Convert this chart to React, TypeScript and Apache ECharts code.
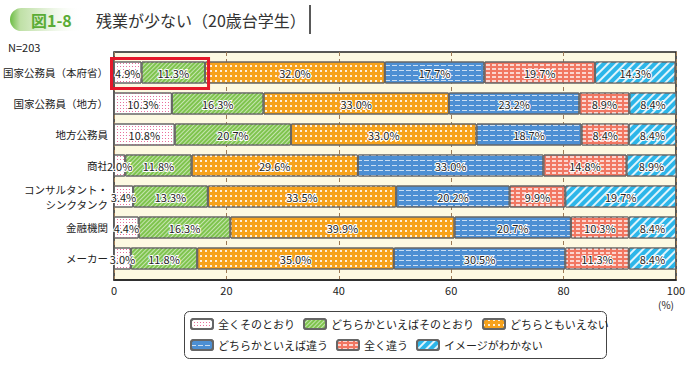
import React, { useEffect, useRef } from "react";
import * as echarts from "echarts";

const categories = [
  "国家公務員（本府省）",
  "国家公務員（地方）",
  "地方公務員",
  "商社",
  "コンサルタント・\nシンクタンク",
  "金融機関",
  "メーカー",
];
const seriesNames = [
  "全くそのとおり",
  "どちらかといえばそのとおり",
  "どちらともいえない",
  "どちらかといえば違う",
  "全く違う",
  "イメージがわかない",
];
const totallyAgree = [4.9, 10.3, 10.8, 2.0, 3.4, 4.4, 3.0];
const ratherAgree = [11.3, 16.3, 20.7, 11.8, 13.3, 16.3, 11.8];
const neutral = [32.0, 33.0, 33.0, 29.6, 33.5, 39.9, 35.0];
const ratherDisagree = [17.7, 23.2, 18.7, 33.0, 20.2, 20.7, 30.5];
const totallyDisagree = [19.7, 8.9, 8.4, 14.8, 9.9, 10.3, 11.3];
const noImage = [14.3, 8.4, 8.4, 8.9, 19.7, 8.4, 8.4];
const seriesValues = [totallyAgree, ratherAgree, neutral, ratherDisagree, totallyDisagree, noImage];
const xMin = 0;
const xMax = 100;
const xInterval = 20;

const FONT = "'Noto Sans CJK JP', 'Noto Sans', sans-serif";

const styles = [
  { color: "#ffffff", decal: { symbol: "rect", symbolSize: 1, color: "#e8709c", dashArrayX: [1, 2], dashArrayY: [1, 1.5] } },
  { color: "#7fc44e", decal: { symbol: "rect", symbolSize: 1, color: "rgba(255,255,255,0.55)", dashArrayX: [1, 0], dashArrayY: [1, 1.5], rotation: -Math.PI / 4 } },
  { color: "#f6a21c", decal: { symbol: "rect", symbolSize: 1, color: "rgba(255,255,255,0.85)", dashArrayX: [2, 3], dashArrayY: [2, 3] } },
  { color: "#4d8fd3", decal: { symbol: "rect", symbolSize: 1, color: "rgba(255,255,255,0.7)", dashArrayX: [5, 2], dashArrayY: [1, 4] } },
  { color: "#f17762", decal: { symbol: "rect", symbolSize: 1, color: "rgba(255,255,255,0.7)", dashArrayX: [4, 2], dashArrayY: [1.5, 1.5] } },
  { color: "#2cb6e9", decal: { symbol: "rect", symbolSize: 1, color: "rgba(255,255,255,0.85)", dashArrayX: [1, 0], dashArrayY: [2, 4], rotation: -Math.PI / 4 } },
];

export default function App() {
  const ref = useRef<HTMLDivElement>(null);
  useEffect(() => {
    document.body.style.margin = "0";
    const chart = echarts.init(ref.current!, null, { renderer: "svg" });
    const baseGraphics: any[] = [
      {
        id: "badge",
        type: "rect",
        shape: { x: 10, y: 8, width: 72, height: 23, r: [12, 0, 0, 12] },
        style: {
          fill: new echarts.graphic.LinearGradient(0, 0, 1, 0, [
            { offset: 0, color: "#6dbd45" },
            { offset: 0.14, color: "#bfe0a6" },
            { offset: 0.5, color: "#e3f1d8" },
            { offset: 1, color: "rgba(255,255,255,0)" },
          ]),
        },
      },
      {
        id: "badgeText",
        type: "text",
        x: 31,
        y: 20,
        style: { text: "図1-8", fill: "#5aac35", font: `bold 16px ${FONT}`, verticalAlign: "middle" },
      },
      {
        id: "title",
        type: "text",
        x: 96,
        y: 20,
        style: { text: "残業が少ない（20歳台学生）", fill: "#333", font: `16px ${FONT}`, verticalAlign: "middle" },
      },
      { id: "titleBar", type: "line", shape: { x1: 310, y1: 5, x2: 310, y2: 34 }, style: { stroke: "#222", lineWidth: 1.5 } },
      {
        id: "n",
        type: "text",
        x: 8,
        y: 47,
        style: { text: "N=203", fill: "#222", font: `11px ${FONT}`, verticalAlign: "middle" },
      },
      {
        id: "pct",
        type: "text",
        x: 666,
        y: 304,
        style: { text: "(%)", fill: "#222", font: `10px ${FONT}`, verticalAlign: "middle", align: "center" },
      },
      {
        id: "legendBox",
        type: "rect",
        z: -1,
        shape: { x: 184.5, y: 311.5, width: 422, height: 47, r: 5 },
        style: { fill: "#fff", stroke: "#444", lineWidth: 1 },
      },
    ];

    const option: any = {
      animation: false,
      textStyle: { fontFamily: FONT },
      grid: [
        {
          left: 114,
          right: 22,
          top: 52,
          height: 228,
          show: true,
          backgroundColor: "#fdf9e2",
          borderColor: "#222",
          borderWidth: 1.5,
        },
        { left: 114, right: 22, top: 57, height: 217 },
      ],
      xAxis: [
        {
          gridIndex: 0,
          type: "value",
          min: xMin,
          max: xMax,
          interval: xInterval,
          axisLine: { show: true, lineStyle: { color: "#222", width: 1.5 } },
          axisTick: { show: false },
          axisLabel: { color: "#222", fontSize: 11, margin: 4 },
          splitLine: { show: true, lineStyle: { color: "#9c7a55", type: [4, 3], width: 1 } },
        },
        { gridIndex: 1, type: "value", min: xMin, max: xMax, show: false },
      ],
      yAxis: [
        { gridIndex: 0, type: "value", show: false },
        {
          gridIndex: 1,
          type: "category",
          data: categories,
          inverse: true,
          axisLine: { show: false },
          axisTick: { show: false },
          axisLabel: { color: "#222", fontSize: 10.5, margin: 6, lineHeight: 15 },
        },
      ],
      legend: [
        {
          data: seriesNames.slice(0, 3),
          left: 190,
          top: 318,
          itemWidth: 22,
          itemHeight: 10,
          itemGap: 8,
          padding: 0,
          textStyle: { fontSize: 11, color: "#222" },
        },
        {
          data: seriesNames.slice(3),
          left: 190,
          top: 339,
          itemWidth: 22,
          itemHeight: 10,
          itemGap: 8,
          padding: 0,
          textStyle: { fontSize: 11, color: "#222" },
        },
      ],
      series: seriesNames.map((name, i) => ({
        name,
        type: "bar",
        stack: "total",
        xAxisIndex: 1,
        yAxisIndex: 1,
        barWidth: 22,
        data: seriesValues[i],
        itemStyle: { color: styles[i].color, decal: styles[i].decal, borderColor: "#666", borderWidth: 1 },
        label: {
          show: true,
          position: "inside",
          fontSize: 11,
          color: "#222",
          textBorderColor: "#fff",
          textBorderWidth: 2,
          formatter: (p: any) => Number(p.value).toFixed(1) + "%",
        },
      })),
      graphic: baseGraphics,
    };
    chart.setOption(option);

    const first = totallyAgree[0] + ratherAgree[0];
    const p0 = chart.convertToPixel({ xAxisIndex: 1, yAxisIndex: 1 } as any, [0, categories[0]]) as number[];
    const p1 = chart.convertToPixel({ xAxisIndex: 1, yAxisIndex: 1 } as any, [first, categories[1]]) as number[];
    const pA = chart.convertToPixel({ xAxisIndex: 1, yAxisIndex: 1 } as any, [first, categories[0]]) as number[];
    const band = p1[1] - p0[1];
    chart.setOption({
      graphic: [
        ...baseGraphics,
        {
          id: "highlight",
          type: "rect",
          z: 100,
          shape: { x: p0[0] - 2.5, y: p0[1] - band / 2 + 1.5, width: pA[0] - p0[0] + 6, height: band - 1 },
          style: { fill: "none", stroke: "#e5182a", lineWidth: 3 },
        },
      ],
    });

    return () => chart.dispose();
  }, []);
  return <div ref={ref} style={{ width: 698, height: 375 }} />;
}
